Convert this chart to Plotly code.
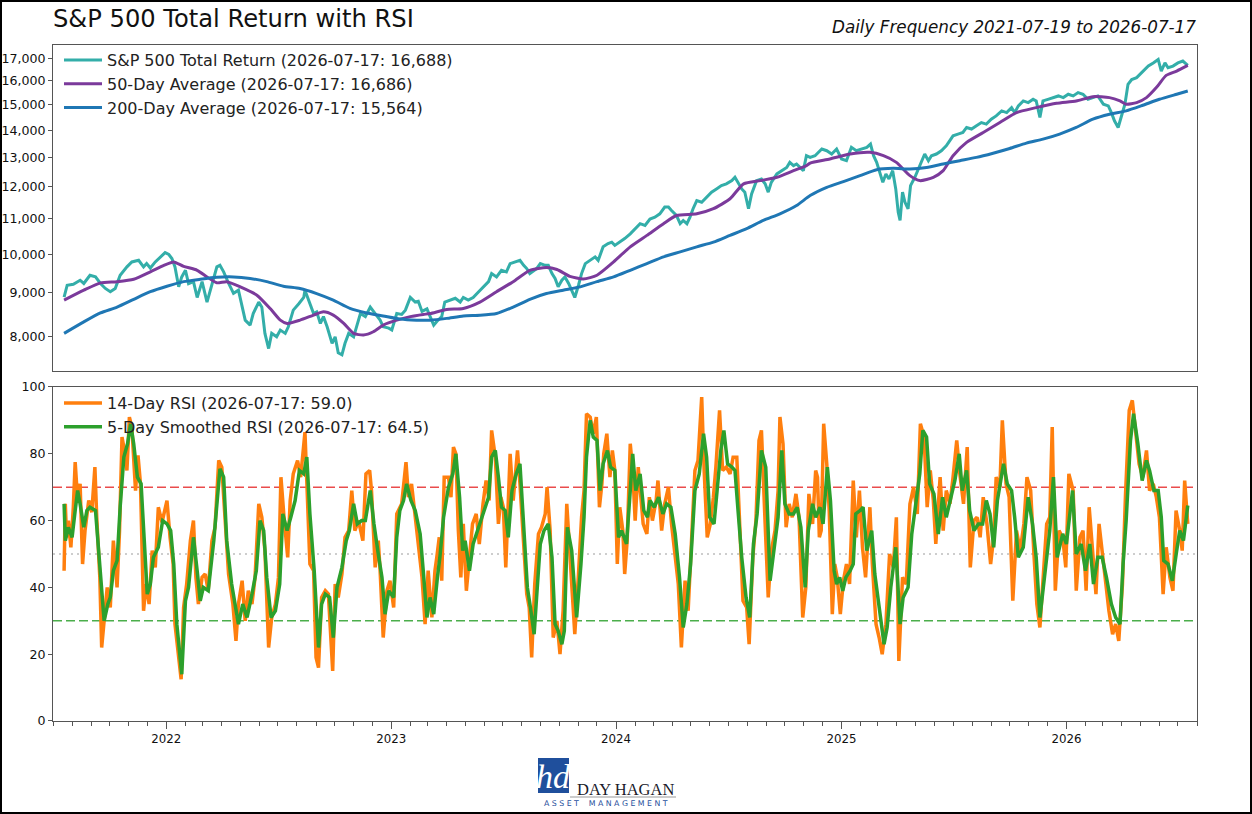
import pandas as pd
import plotly.graph_objects as go

# ---------------- data (x = calendar days after 2021-07-01) ----------------
START = "2021-07-01"

price_day = [18,23,33,44,50,60,69,77,85,93,101,109,120,128,139,147,152,158,166,174,182,188,193,198,204,209,215,220,228,234,
             242,250,258,266,271,277,285,293,301,307,312,320,325,334,339,344,350,355,363,369,377,382,390,399,407,409,415,423,428,434,
             439,445,453,458,463,469,474,480,488,493,499,507,515,523,531,536,545,550,558,566,572,580,588,593,599,607,612,618,623,
             631,636,645,653,661,666,674,682,691,699,707,712,720,728,736,742,750,758,764,769,774,785,791,799,804,810,815,820,826,831,
             837,842,847,853,858,864,872,880,885,893,901,907,912,920,928,937,945,953,961,969,977,985,993,999,1004,1012,1018,1023,1029,1034,
             1039,1045,1053,1061,1069,1077,1085,1093,1102,1107,1112,1118,1123,1129,1134,1142,1150,1156,1161,1166,1175,1183,1191,1196,1202,1207,1212,1218,1223,1229,
             1237,1248,1256,1264,1272,1280,1288,1296,1304,1312,1321,1327,1332,1337,1342,1347,1352,1357,1363,1368,1372,1375,1379,1383,1388,1392,1399,1407,1415,1421,
             1426,1434,1442,1450,1456,1461,1469,1477,1483,1491,1499,1507,1515,1523,1531,1540,1548,1556,1561,1567,1575,1583,1591,1596,1602,1607,1615,1623,1632,1640,
             1648,1656,1664,1672,1680,1688,1696,1705,1713,1718,1723,1729,1734,1740,1745,1751,1759,1767,1772,1778,1786,1794,1799,1805,1810,1818,1826,1834,1842]
price_val = [8900,9190,9215,9316,9235,9443,9400,9235,9110,9030,9110,9443,9660,9790,9833,9660,9750,9630,9790,9925,10040,9990,9880,9660,9150,9400,9571,9230,9280,8890,
             9280,8780,9190,9660,9700,9530,9240,8990,9068,8660,8360,8248,8510,8780,8660,8065,7740,8065,7990,8138,8065,8210,8590,8740,8890,9068,8826,8510,8550,8285,
             8440,8210,7850,7990,7650,7610,7850,8065,7990,8248,8510,8440,8660,8510,8360,8210,8180,8138,8510,8490,8590,8890,8780,8800,8560,8620,8440,8248,8330,
             8440,8780,8826,8870,8780,8890,8826,8890,9030,9150,9280,9485,9400,9571,9530,9745,9790,9833,9700,9615,9485,9615,9745,9700,9700,9485,9360,9150,9316,9400,
             9235,9068,8890,9190,9485,9745,9833,9925,9833,10200,10290,10330,10240,10330,10430,10565,10710,10860,10810,11000,11055,11155,11360,11360,11256,11105,10860,10956,10860,11055,
             11310,11565,11510,11670,11830,11935,12043,12100,12207,12317,12150,11935,11830,11310,11775,12207,12260,12100,11830,12150,12430,12541,12650,12825,12712,12770,12650,12541,13060,13000,
             13060,13300,13238,13120,13300,12945,12885,13360,13238,13300,13360,13480,13060,12825,12485,12150,12430,12260,12541,11935,11205,10956,11830,11510,11310,12043,12317,12712,13120,12885,
             13060,13120,13238,13418,13600,13785,13850,13910,14100,14040,14163,14290,14230,14420,14551,14749,14680,14880,14680,14950,15153,15085,15220,15153,14485,15153,15220,15290,15359,15290,
             15430,15359,15500,15430,15220,15290,15359,15020,14950,14680,14356,14100,14551,15020,15850,16060,16140,16360,16500,16657,16800,16960,16433,16800,16580,16657,16800,16883,16688]

ma50_day = [18,50,77,104,131,158,180,196,212,234,250,266,282,304,331,353,369,380,401,423,439,455,472,488,504,520,536,558,580,601,
            612,639,666,693,720,747,774,801,818,839,861,883,910,937,964,991,1012,1045,1072,1099,1121,1148,1175,1202,1223,1229,1261,1294,1326,1348,
            1369,1391,1407,1429,1445,1461,1483,1510,1537,1564,1596,1629,1661,1688,1715,1732,1742,1759,1775,1791,1807,1824,1842]
ma50_val = [8826,9068,9250,9280,9340,9530,9700,9790,9675,9571,9400,9250,9280,9150,8946,8620,8360,8285,8360,8475,8550,8475,8285,8065,8028,8100,8248,8360,8440,8490,
            8510,8605,8630,8780,9030,9280,9571,9640,9590,9415,9345,9443,9790,10200,10521,10860,11105,11155,11310,11620,12100,12207,12317,12541,12712,12800,12945,13120,13180,13060,
            12825,12373,12207,12317,12541,13060,13540,13910,14290,14680,14880,15060,15153,15330,15290,15153,15020,15085,15290,15710,16240,16433,16686]

ma200_day = [18,50,77,104,131,158,185,212,239,266,293,320,347,374,401,428,455,482,509,536,563,590,
             612,639,666,693,720,747,774,801,828,856,883,910,937,964,991,1018,1045,1072,1099,1126,1153,1180,1207,
             1229,1256,1283,1310,1337,1364,1391,1418,1445,1472,1499,1526,1553,1580,1607,1634,1661,1688,1715,1742,1769,1796,1824,1842]
ma200_val = [8065,8320,8525,8660,8845,9030,9165,9280,9340,9390,9400,9360,9280,9165,9110,8985,8826,8630,8525,8455,8385,8360,
             8360,8400,8455,8470,8510,8660,8845,8985,9068,9150,9280,9400,9571,9745,9925,10060,10200,10330,10521,10715,10956,11155,11409,
             11722,11985,12175,12373,12575,12620,12600,12650,12770,12885,13000,13150,13320,13515,13660,13850,14100,14420,14615,14749,14975,15220,15430,15564]

rsi_day = [18,20,22,25,29,33,36,40,44,48,52,58,63,68,71,76,79,83,88,93,98,104,108,112,116,120,124,128,134,138,
           142,147,151,156,161,166,171,177,185,190,195,198,204,208,212,217,223,228,232,236,242,247,252,258,263,269,274,279,285,292,
           297,301,307,312,317,323,328,334,339,344,350,355,361,366,370,375,381,385,390,397,402,409,413,417,423,427,431,436,442,447,
           454,458,463,469,474,480,485,490,496,503,508,514,517,523,528,531,536,542,547,553,558,566,573,577,582,588,593,599,604,609,
           615,620,623,627,631,635,642,646,650,654,658,662,666,671,676,681,687,692,698,703,708,712,718,723,727,731,735,742,747,754,
           758,764,769,773,777,782,788,793,799,802,807,812,818,823,828,834,839,847,853,858,862,866,872,877,882,887,891,894,899,904,
           908,912,916,920,925,928,932,937,941,945,950,954,958,964,968,973,979,982,988,993,999,1004,1010,1015,1020,1026,1031,1037,1042,1047,
           1053,1057,1062,1067,1072,1076,1082,1087,1093,1099,1104,1110,1115,1120,1126,1130,1136,1141,1146,1150,1156,1161,1166,1172,1177,1180,1185,1190,1195,1200,
           1206,1211,1217,1222,1227,1233,1238,1241,1244,1247,1251,1256,1260,1265,1269,1273,1278,1283,1288,1293,1299,1304,1309,1314,1319,1326,1330,1336,1341,1346,
           1352,1358,1364,1369,1373,1379,1385,1391,1397,1403,1408,1414,1419,1424,1429,1433,1440,1445,1450,1456,1461,1467,1472,1478,1484,1489,1495,1500,1505,1510,
           1516,1522,1527,1531,1537,1541,1547,1552,1558,1564,1570,1576,1581,1587,1592,1597,1602,1607,1613,1618,1622,1627,1633,1639,1644,1649,1656,1661,1667,1672,
           1677,1682,1687,1693,1698,1703,1709,1714,1720,1725,1730,1736,1741,1747,1752,1757,1763,1769,1775,1780,1786,1791,1796,1802,1807,1813,1818,1823,1829,1833,
           1837,1842]
rsi_val = [45,65,55,60,52,64,77.5,66,71,47,57,66,62.5,76,61,43,22,31,40,34,54,40,57,85,81,75,91,88,69,79.5,
           71,33,41,35,51,46,64,59.5,66,55,47,29,18,12.5,34,41,54,60,43,35,43,44,39,54,58,78,76,61,44,35,
           24,35,42,30,39,35,43,65,61,51,22,31,35,43,73,61,49,66,74,78,73,86.5,66,47,45,19,16,37,39,38,
           15,41,37,44,55,57,69,57,60,54,74,75,69,46,54,45,25,39,42,34,62,65,77.5,67,71,61,55,43,29,45,
           31,45,49,55,42,73,73,67,82,80,57,43,59,39,49,59,62,53,65,72,66,87,79,59,67,64,46,80,66,81,
           71,55,38,34,19,41,56,58,62,70,57,25,30,20,33,65,51,26,44,61,69,92,91,86,91,64,71,80,86,73,
           81,75,47,64,57,44,54,83,75,60,76,67,59,56,67,60,66,72,57,65,70,59,50,41,22,42,33,54,75,78,
           97,75,55,59,67,76,93,75,76,74,79,79,57,36,34,23,49,60,84,87,59,37,51,57,69,91,83,58,65,61,
           68,61,31,40,68,59,75,73,55,57,89,77,63,32,47,43,32,42,47,41,72,55,69,52,43,64,47,29,25,20,
           29,50,46,61,18,43,41,65,70,62,89,85,64,75,66,53,73,57,69,65,73,84,74,65,82,46,60,61,55,67,
           59,47,55,73,70,90,71,67,36,57,51,59,73,69,51,35,28,44,59,61,88,39,57,55,46,74,69,39,55,57,
           39,64,51,38,59,51,43,33,26,29,24,41,68,93,96,87,77,73,81,69,71,67,61,38,52,43,39,63,57,51,
           72,59.0]

smooth_day = [18,20,25,31,36,40,44,50,55,60,69,74,79,83,89,93,98,104,109,115,121,126,131,137,143,147,153,158,163,171,
              178,185,191,196,201,209,215,220,228,234,239,244,252,261,266,271,277,282,290,296,301,308,315,323,330,336,342,347,354,361,
              368,373,380,386,393,400,407,412,417,424,431,436,442,449,455,461,469,476,481,488,494,501,507,515,521,528,534,539,545,553,
              558,563,569,574,581,588,596,601,607,612,618,624,628,634,642,649,654,660,665,669,676,682,691,699,707,712,718,723,728,734,
              739,745,752,758,764,770,775,781,785,791,797,804,810,815,820,826,830,835,842,850,857,862,866,872,877,883,888,893,900,905,
              912,918,923,931,937,941,946,953,959,965,969,976,983,990,996,1003,1010,1017,1023,1029,1035,1042,1049,1056,1061,1066,1073,1078,1084,1089,
              1095,1102,1107,1112,1118,1125,1131,1137,1143,1150,1157,1164,1170,1177,1183,1188,1195,1202,1208,1214,1221,1226,1233,1238,1245,1250,1257,1262,1268,1272,
              1277,1282,1287,1294,1299,1303,1310,1315,1321,1329,1334,1340,1345,1349,1354,1360,1368,1375,1380,1388,1394,1401,1407,1412,1418,1423,1430,1437,1444,1450,
              1457,1464,1471,1476,1483,1488,1495,1502,1509,1515,1521,1527,1533,1538,1543,1549,1556,1561,1567,1575,1583,1590,1596,1602,1607,1614,1618,1624,1630,1639,
              1645,1655,1661,1669,1676,1683,1689,1696,1703,1710,1718,1725,1732,1737,1742,1749,1754,1761,1768,1775,1780,1787,1794,1799,1803,1810,1817,1824,1829,1835,
              1842]
smooth_val = [65,54,58,55,63,69,65,58,63,64,63,52,39,30,35,37,45,48,64,79,83,89,83,73,71,56,38,41,49,52,
              60,59,57,47,29,14,36,40,55,45,36,40,39,54,66,75.5,73,54,41,34,29,35,31,38,45,60,57,43,31,33,
              41,62,57,61,66,75,74,79,62,45,22,35,38,37,25,40,46,54,57,65,59,60,60,69,59,50,43,32,39,37,
              55,63,66,71,66,63,56,45,31,37,32,43,49,61,70,74,80,67,51,54,45,53,58,63,67,79,81,73,64,63,
              55,69,74,77,57,40,34,26,37,53,57,59,49,29,27,23,27,58,51,31,47,61,79,90,85,84,69,77,81,76,
              75,55,57,53,69,80,69,74,63,61,66,64,67,62,65,64,56,43,28,35,47,69,74,86,79,61,59,69,81,87,
              77,76,75,63,49,37,31,53,62,81,76,42,51,61,81,65,62,62,64,58,40,57,65,61,64,59,76,66,45,41,
              43,39,43,45,47,62,63,64,51,57,44,36,29,23,28,40,52,29,37,40,56,66,74,87,85,71,68,56,67,61,
              67,72,80,69,75,63,57,59,59,66,62,52,66,71,77,71,69,61,49,52,67,59,49,31,39,52,57,73,49,56,
              53,69,50,53,45,53,41,49,49,43,35,31,29,47,60,84,92,83,72,78,75,69,69,61,48,47,42,51,57,54,
              64.5]

rsi_levels = [70, 50, 30]   # overbought / neutral / oversold reference lines
price_ticks = [8000, 9000, 10000, 11000, 12000, 13000, 14000, 15000, 16000, 17000]
rsi_ticks = [0, 20, 40, 60, 80, 100]

names_top = ["S&P 500 Total Return (2026-07-17: 16,688)",
             "50-Day Average (2026-07-17: 16,686)",
             "200-Day Average (2026-07-17: 15,564)"]
names_bot = ["14-Day RSI (2026-07-17: 59.0)",
             "5-Day Smoothed RSI (2026-07-17: 64.5)"]

# ---------------- figure ----------------
base = pd.Timestamp(START)
def dates(days):
    return base + pd.to_timedelta(days, unit="D")

TEAL, PURPLE, BLUE = "#33aea9", "#7b3a9b", "#1f77b4"
ORANGE, GREEN = "#ff7f0e", "#2ca02c"
FONT = "DejaVu Sans"
AXC = "#555555"

fig = go.Figure()
fig.add_trace(go.Scatter(x=dates(price_day), y=price_val, mode="lines", name=names_top[0],
                         line=dict(color=TEAL, width=3), xaxis="x", yaxis="y", legend="legend"))
fig.add_trace(go.Scatter(x=dates(ma50_day), y=ma50_val, mode="lines", name=names_top[1],
                         line=dict(color=PURPLE, width=3, shape="spline", smoothing=0.6), xaxis="x", yaxis="y", legend="legend"))
fig.add_trace(go.Scatter(x=dates(ma200_day), y=ma200_val, mode="lines", name=names_top[2],
                         line=dict(color=BLUE, width=3, shape="spline", smoothing=0.6), xaxis="x", yaxis="y", legend="legend"))
fig.add_trace(go.Scatter(x=dates(rsi_day), y=rsi_val, mode="lines", name=names_bot[0],
                         line=dict(color=ORANGE, width=3.5), xaxis="x2", yaxis="y2", legend="legend2"))
fig.add_trace(go.Scatter(x=dates(smooth_day), y=smooth_val, mode="lines", name=names_bot[1],
                         line=dict(color=GREEN, width=3.5), xaxis="x2", yaxis="y2", legend="legend2"))

xr = ["2021-07-01", "2026-08-01"]
top_dom = [0.5178, 1.0]
bot_dom = [0.0, 0.4941]
log_range = [3.8623, 4.2464]

common_y = dict(showgrid=False, zeroline=False, ticks="outside", ticklen=4, tickcolor=AXC, automargin=False,
                tickfont=dict(family=FONT, size=12.6, color="#111"), linecolor=AXC, linewidth=1, showline=True)

shapes = []
dash_map = {70: ("rgba(230,45,45,0.85)", "9px,4px"), 50: ("#bdbdbd", "2px,4px"), 30: ("rgba(44,160,44,0.85)", "9px,4px")}
for lv in rsi_levels:
    c, d = dash_map[lv]
    shapes.append(dict(type="line", xref="x2 domain", yref="y2", x0=0, x1=1, y0=lv, y1=lv,
                       line=dict(color=c, width=1.6, dash=d), layer="below"))

# figure border
shapes.append(dict(type="rect", xref="paper", yref="paper", x0=-53/1144, x1=1199/1144,
                   y0=-93/676, y1=721/676, line=dict(color="black", width=4), fillcolor="rgba(0,0,0,0)"))
# logo
shapes.append(dict(type="rect", xref="paper", yref="paper", x0=(538-53)/1144, x1=(569-53)/1144,
                   y0=(721-793)/676, y1=(721-758)/676, line=dict(width=0), fillcolor="#1f4f9c"))
shapes.append(dict(type="line", xref="paper", yref="paper", x0=(570-53)/1144, x1=(676-53)/1144,
                   y0=(721-797)/676, y1=(721-797)/676, line=dict(color="#9a9a9a", width=1.2)))

def px_x(px):
    return (px - 53) / 1144
def px_y(py):
    return (721 - py) / 676

annotations = [
    dict(text="S&P 500 Total Return with RSI", xref="paper", yref="paper", x=px_x(51), y=px_y(19),
         xanchor="left", yanchor="middle", showarrow=False, font=dict(family=FONT, size=24.2, color="#111")),
    dict(text="<i>Daily Frequency 2021-07-19 to 2026-07-17</i>", xref="paper", yref="paper", x=px_x(1198), y=px_y(27),
         xanchor="right", yanchor="middle", showarrow=False, font=dict(family=FONT, size=16.8, color="#111")),
    dict(text="<i>hd</i>", xref="paper", yref="paper", x=px_x(553), y=px_y(776), xanchor="center", yanchor="middle",
         showarrow=False, font=dict(family="Liberation Serif", size=34, color="white")),
    dict(text="DAY HAGAN", xref="paper", yref="paper", x=px_x(625), y=px_y(789), xanchor="center", yanchor="middle",
         showarrow=False, font=dict(family="Liberation Serif", size=16.5, color="#1a1a2a")),
    dict(text="A S S E T    M A N A G E M E N T", xref="paper", yref="paper", x=px_x(606), y=px_y(803),
         xanchor="center", yanchor="middle", showarrow=False, font=dict(family=FONT, size=7.8, color="#1f4f9c")),
]

fig.update_layout(
    width=1252, height=814,
    margin=dict(l=53, r=55, t=45, b=93),
    paper_bgcolor="white", plot_bgcolor="white",
    font=dict(family=FONT, color="#111"),
    showlegend=True,
    xaxis=dict(domain=[0, 1], anchor="y", range=xr, type="date", showticklabels=False, ticks="", automargin=False,
               showgrid=False, zeroline=False, showline=True, mirror=True, linecolor=AXC, linewidth=1),
    yaxis=dict(domain=top_dom, anchor="x", type="log", range=log_range, tickvals=price_ticks, tickformat=",d",
               mirror=True, **common_y),
    yaxis3=dict(overlaying="y", side="right", anchor="x", type="log", range=log_range, tickvals=price_ticks,
                tickformat=",d", **common_y),
    xaxis2=dict(domain=[0, 1], anchor="y2", range=xr, type="date", showgrid=False, zeroline=False, automargin=False,
                showline=True, mirror=True, linecolor=AXC, linewidth=1,
                tick0="2022-01-01", dtick="M12", tickformat="%Y", ticks="outside", ticklen=7, tickcolor=AXC,
                tickfont=dict(family=FONT, size=11.8, color="#111"),
                minor=dict(dtick="M1", tick0="2021-07-01", ticks="outside", ticklen=4, tickcolor=AXC)),
    yaxis2=dict(domain=bot_dom, anchor="x2", range=[0, 100], tickvals=rsi_ticks, mirror=True, **common_y),
    yaxis4=dict(overlaying="y2", side="right", anchor="x2", range=[0, 100], tickvals=rsi_ticks, **common_y),
    legend=dict(x=px_x(59), y=px_y(43), xanchor="left", yanchor="top", bgcolor="rgba(0,0,0,0)",
                font=dict(family=FONT, size=16, color="#222"), itemwidth=38, tracegroupgap=0),
    legend2=dict(x=px_x(59), y=px_y(386), xanchor="left", yanchor="top", bgcolor="rgba(0,0,0,0)",
                 font=dict(family=FONT, size=16, color="#222"), itemwidth=38, tracegroupgap=0),
    shapes=shapes,
    annotations=annotations,
)

fig.write_html("out.html")
